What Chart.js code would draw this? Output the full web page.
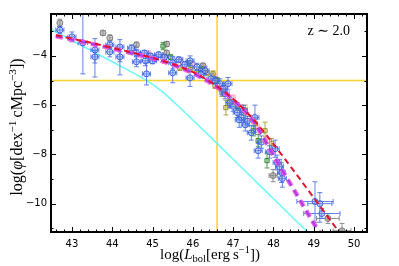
<!DOCTYPE html>
<html><head><meta charset="utf-8">
<script src="https://cdn.jsdelivr.net/npm/chart.js@4/dist/chart.umd.min.js"></script>
<style>html,body{margin:0;padding:0;background:#fff;}</style>
</head><body>
<canvas id="c" width="399" height="266"></canvas>
<script>
// ---- tick labels ----
const xTicks = [43,44,45,46,47,48,49,50];
const yTicks = [-4,-6,-8,-10];
const annotation = 'z \u223C 2.0';
const refY = [-5];
const refX = [46.6];

// ---- model curves ----
const fitRedX = [42.6,43,43.5,44,44.5,45,45.5,46,46.5,47,47.5,48,48.5,49,49.5,49.65];
const fitRedY = [-3.16,-3.3,-3.48,-3.67,-3.87,-4.08,-4.33,-4.66,-5.12,-5.75,-6.58,-7.58,-8.66,-9.76,-10.87,-11.2];
const fitMagX = [42.6,43,43.5,44,44.5,45,45.5,46,46.5,47,47.5,48,48.5,49,49.2];
const fitMagY = [-3.2,-3.34,-3.52,-3.7,-3.9,-4.1,-4.36,-4.7,-5.16,-5.8,-6.65,-8.05,-9.42,-10.8,-11.3];
const cyanX = [42.5,43,43.5,44,44.5,44.75,45,45.25,45.5,46,46.5,47,47.5,48,48.5,48.9];
const cyanY = [-2.93,-3.37,-3.81,-4.24,-4.67,-4.9,-5.16,-5.47,-5.83,-6.6,-7.4,-8.2,-9.0,-9.8,-10.6,-11.23];

// ---- observed points ----
const blueX = [42.70,43.00,43.27,43.57,43.57,43.94,43.94,44.19,44.19,44.48,44.60,44.60,44.80,44.82,44.85,44.95,45.05,45.15,45.50,45.50,45.65,45.93,45.93,46.10,46.30,46.45,46.67,46.87,46.80,46.92,47.10,47.20,47.30,47.15,47.54,47.45,47.62,48.04,48.09,48.15,48.20,48.22,49.03,49.15,49.20,45.00,45.30,45.80,46.20,46.55,46.75,47.00,47.25,47.35,47.70,47.90];
const blueY = [-2.95,-3.23,-3.47,-3.76,-4.04,-3.55,-3.84,-3.64,-4.04,-3.68,-3.88,-4.24,-3.88,-4.20,-4.73,-4.00,-4.10,-3.95,-4.28,-4.69,-4.15,-4.20,-4.89,-4.45,-4.60,-4.93,-5.13,-5.13,-5.54,-5.90,-6.30,-6.50,-6.80,-6.60,-6.50,-7.12,-7.85,-7.77,-8.33,-8.50,-8.74,-8.98,-9.91,-10.00,-10.40,-4.20,-4.05,-4.35,-4.75,-5.00,-5.35,-6.05,-6.20,-6.65,-7.50,-7.90];
const blueErrHi = [0.15,0.20,1.30,0.46,0.25,0.15,0.20,0.30,0.20,0.12,0.15,0.20,0.10,0.20,0.45,0.10,0.12,0.10,0.25,0.40,0.10,0.20,0.35,0.15,0.15,0.20,0.20,0.25,0.20,0.20,0.20,0.20,0.25,0.30,0.50,0.30,0.30,0.35,0.30,0.30,0.40,0.35,0.80,0.45,0.20,0.12,0.10,0.12,0.15,0.15,0.15,0.20,0.20,0.20,0.25,0.25];
const blueErrLo = [0.15,0.20,1.26,1.10,0.25,0.15,0.20,1.13,0.20,0.12,0.15,0.20,0.10,0.20,0.45,0.10,0.12,0.10,0.25,0.40,0.10,0.20,0.35,0.15,0.15,0.20,0.20,0.25,0.20,0.20,0.20,0.20,0.25,0.30,0.60,0.30,0.30,0.35,0.30,0.30,0.40,0.35,0.85,0.75,0.20,0.12,0.10,0.12,0.15,0.15,0.15,0.20,0.20,0.20,0.25,0.25];
const blueXErr = [0.10,0.10,0.12,0.10,0.10,0.10,0.10,0.10,0.10,0.10,0.10,0.10,0.10,0.10,0.10,0.10,0.10,0.10,0.10,0.10,0.10,0.10,0.10,0.10,0.10,0.10,0.10,0.10,0.10,0.10,0.10,0.10,0.10,0.10,0.10,0.10,0.10,0.10,0.10,0.10,0.10,0.10,0.45,0.30,0.45,0.10,0.10,0.10,0.10,0.10,0.10,0.10,0.10,0.10,0.10,0.10];

const grayX = [42.70,43.77,43.94,44.60,45.35,45.35,46.25,47.99,49.35,49.70];
const grayY = [-2.66,-3.07,-3.27,-3.55,-3.52,-3.88,-4.40,-8.86,-10.60,-11.10];
const grayErr = [0.15,0.10,0.12,0.10,0.10,0.10,0.10,0.25,0.20,0.30];
const grayXErr = [0,0,0,0,0,0,0,0.10,0.28,0.22];

const oliveX = [45.68,45.95,46.10,46.35,46.50,46.55,46.72,46.82,46.90,47.30,47.55,47.79,47.95];
const oliveY = [-4.49,-4.55,-4.69,-4.69,-4.73,-5.20,-5.50,-6.10,-5.85,-6.20,-6.75,-7.04,-7.55];
const oliveErr = [0.10,0.10,0.10,0.10,0.12,0.12,0.15,0.30,0.20,0.20,0.20,0.35,0.20];

const greenX = [45.26,45.45,45.90,46.20,46.60,47.10,47.50,47.62,47.84];
const greenY = [-3.60,-4.05,-4.30,-4.55,-5.00,-6.05,-7.05,-7.44,-8.25];
const greenErr = [0.15,0.10,0.10,0.10,0.12,0.15,0.20,0.25,0.30];

const pinkX = [44.90,45.30,45.70,46.00,46.30,46.55,46.80,47.00,47.20,47.40,47.60,47.80,48.00];
const pinkY = [-3.90,-4.00,-4.20,-4.35,-4.50,-4.85,-5.30,-5.70,-6.10,-6.50,-6.90,-7.40,-7.90];
const pinkErr = [0.12,0.12,0.12,0.12,0.12,0.12,0.12,0.12,0.12,0.12,0.12,0.12,0.12];

const pts = (xs, ys) => xs.map((x, i) => ({x, y: ys[i]}));
const errs = (lo, hi, xe) => lo.map((l, i) => ({yl: l, yh: hi ? hi[i] : l, x: xe ? xe[i] : 0}));

const XMIN = 42.48, XMAX = 50.32, YMIN = -11.15, YMAX = -2.3;

const errPlugin = {
  id: 'errbars',
  beforeDatasetDraw(chart, args) {
    const ds = chart.data.datasets[args.index];
    if (!ds.err) return;
    const ctx = chart.ctx, xs = chart.scales.x, ys = chart.scales.y, a = chart.chartArea;
    ctx.save();
    ctx.beginPath(); ctx.rect(a.left, a.top, a.right - a.left, a.bottom - a.top); ctx.clip();
    ctx.strokeStyle = ds.errColor; ctx.lineWidth = 1;
    ds.data.forEach((p, i) => {
      const e = ds.err[i];
      const px = xs.getPixelForValue(p.x), py = ys.getPixelForValue(p.y);
      ctx.beginPath();
      if (e.yl || e.yh) {
        const y1 = ys.getPixelForValue(p.y + e.yh), y2 = ys.getPixelForValue(p.y - e.yl);
        ctx.moveTo(px, y1); ctx.lineTo(px, y2);
        ctx.moveTo(px - 2.5, y1); ctx.lineTo(px + 2.5, y1);
        ctx.moveTo(px - 2.5, y2); ctx.lineTo(px + 2.5, y2);
      }
      if (e.x) {
        const x1 = xs.getPixelForValue(p.x - e.x), x2 = xs.getPixelForValue(p.x + e.x);
        ctx.moveTo(x1, py); ctx.lineTo(x2, py);
        ctx.moveTo(x1, py - 2.5); ctx.lineTo(x1, py + 2.5);
        ctx.moveTo(x2, py - 2.5); ctx.lineTo(x2, py + 2.5);
      }
      ctx.stroke();
    });
    ctx.restore();
  }
};

const refPlugin = {
  id: 'refs',
  beforeDatasetsDraw(chart) {
    const ctx = chart.ctx, xs = chart.scales.x, ys = chart.scales.y, a = chart.chartArea;
    ctx.save();
    ctx.strokeStyle = '#f9d42a'; ctx.lineWidth = 1.5;
    refY.forEach(v => { const p = ys.getPixelForValue(v); ctx.beginPath(); ctx.moveTo(a.left, p); ctx.lineTo(a.right, p); ctx.stroke(); });
    refX.forEach(v => { const p = xs.getPixelForValue(v); ctx.beginPath(); ctx.moveTo(p, a.top); ctx.lineTo(p, a.bottom); ctx.stroke(); });
    ctx.restore();
  }
};

function drawRich(ctx, segs, size, cx, cy, rot) {
  const fam = '"Liberation Serif","DejaVu Serif",serif';
  const fontFor = s => {
    const sz = (s[1] === 'sub' || s[1] === 'sup') ? size * 0.7 : size;
    return (s[1] === 'i' ? 'italic ' : '') + sz + 'px ' + fam;
  };
  let w = 0;
  segs.forEach(s => { ctx.font = fontFor(s); w += ctx.measureText(s[0]).width; });
  ctx.save();
  ctx.translate(cx, cy); ctx.rotate(rot);
  ctx.fillStyle = '#000'; ctx.textBaseline = 'alphabetic'; ctx.textAlign = 'left';
  let x = -w / 2;
  segs.forEach(s => {
    ctx.font = fontFor(s);
    let dy = 0;
    if (s[1] === 'sub') dy = size * 0.22;
    if (s[1] === 'sup') dy = -size * 0.4;
    ctx.fillText(s[0], x, dy);
    x += ctx.measureText(s[0]).width;
  });
  ctx.restore();
}

const framePlugin = {
  id: 'frame',
  afterDatasetsDraw(chart) {
    const ctx = chart.ctx, xs = chart.scales.x, ys = chart.scales.y, a = chart.chartArea;
    ctx.save();
    ctx.strokeStyle = '#000'; ctx.lineWidth = 1;
    const tick = (px, major, vertical) => {
      const L = major ? 5 : 2.5;
      ctx.beginPath();
      if (vertical) { ctx.moveTo(px, a.bottom); ctx.lineTo(px, a.bottom - L); ctx.moveTo(px, a.top); ctx.lineTo(px, a.top + L); }
      else { ctx.moveTo(a.left, px); ctx.lineTo(a.left + L, px); ctx.moveTo(a.right, px); ctx.lineTo(a.right - L, px); }
      ctx.stroke();
    };
    for (let v = 42.6; v < XMAX; v += 0.2) {
      const r = Math.round(v * 10) / 10;
      const major = Math.abs(r - Math.round(r)) < 1e-6;
      tick(Math.round(xs.getPixelForValue(r)) + 0.5, major, true);
    }
    for (let v = -11; v <= -3; v += 1) {
      tick(Math.round(ys.getPixelForValue(v)) + 0.5, v % 2 === 0, false);
    }
    ctx.lineWidth = 2;
    ctx.strokeRect(a.left, a.top, a.right - a.left, a.bottom - a.top);
    // annotation
    ctx.fillStyle = '#000';
    ctx.font = '14px "Liberation Serif","DejaVu Serif",serif';
    ctx.textAlign = 'right'; ctx.textBaseline = 'alphabetic';
    ctx.fillText(annotation, a.right - 17, 35);
    ctx.restore();
    drawRich(ctx, [['log(', 'n'], ['L', 'i'], ['bol', 'sub'], ['[erg\u2009s', 'n'], ['\u22121', 'sup'], ['])', 'n']], 15, 210, 259, 0);
    drawRich(ctx, [['log(', 'n'], ['\u03C6', 'i'], ['[dex', 'n'], ['\u22121', 'sup'], ['\u2009cMpc', 'n'], ['\u22123', 'sup'], ['])', 'n']], 16, 22, 127, -Math.PI / 2);
  }
};

const scatter = (label, xs, ys, err, style, border, bg, errColor, order, r) => ({
  type: 'scatter', label, data: pts(xs, ys), err, errColor, order,
  pointStyle: style, pointRadius: r || 3, pointBorderWidth: 1,
  pointBorderColor: border, pointBackgroundColor: bg, showLine: false
});
const line = (label, xs, ys, color, width, dash, order, smooth) => ({
  type: 'line', label, data: pts(xs, ys), borderColor: color, borderWidth: width,
  borderDash: dash, pointRadius: 0, fill: false, order,
  cubicInterpolationMode: smooth ? 'monotone' : 'default', tension: smooth ? 0.4 : 0
});

new Chart(document.getElementById('c'), {
  data: {
    datasets: [
      line('red fit', fitRedX, fitRedY, '#e3122d', 2, [6, 4], 0, true),
      line('violet fit', fitMagX, fitMagY, '#a040f0', 2, [7, 5], 1, true),
      line('magenta fit', fitMagX, fitMagY, 'rgba(255,80,210,0.9)', 4.5, [7, 5], 2, true),
      scatter('blue', blueX, blueY, errs(blueErrLo, blueErrHi, blueXErr), 'circle', '#3e63dd', 'rgba(120,150,235,0.35)', 'rgba(70,110,230,0.85)', 3),
      scatter('green', greenX, greenY, errs(greenErr, null, null), 'rect', '#3a8c3a', 'rgba(90,160,90,0.35)', 'rgba(58,140,58,0.85)', 4),
      scatter('olive', oliveX, oliveY, errs(oliveErr, null, null), 'rect', '#9c9622', 'rgba(190,180,60,0.35)', 'rgba(160,150,40,0.85)', 5),
      scatter('gray', grayX, grayY, errs(grayErr, null, grayXErr), 'circle', '#808080', 'rgba(150,150,150,0.6)', 'rgba(128,128,128,0.9)', 6),
      scatter('pink', pinkX, pinkY, errs(pinkErr, null, null), 'rect', '#ffb6c8', 'rgba(255,190,205,0.6)', 'rgba(255,182,200,0.9)', 7),
      line('cyan', cyanX, cyanY, 'rgba(90,250,250,0.9)', 1.5, [], 8, true)
    ]
  },
  options: {
    responsive: false, animation: false, devicePixelRatio: 1,
    layout: { padding: { left: 0, right: 32, top: 14, bottom: 0 } },
    plugins: { legend: { display: false }, tooltip: { enabled: false } },
    scales: {
      x: {
        type: 'linear', min: XMIN, max: XMAX,
        grid: { display: false, drawTicks: false }, border: { display: false },
        ticks: { color: '#000', font: { family: '"DejaVu Sans"', size: 10 }, padding: 6, maxRotation: 0, autoSkip: false, callback: v => String(v) },
        afterBuildTicks: s => { s.ticks = xTicks.map(v => ({ value: v })); },
        afterFit: s => { s.height = 34; }
      },
      y: {
        type: 'linear', min: YMIN, max: YMAX,
        grid: { display: false, drawTicks: false }, border: { display: false },
        ticks: { color: '#000', font: { family: '"DejaVu Sans"', size: 10 }, padding: 4, autoSkip: false, callback: v => '\u2212' + Math.abs(v) },
        afterBuildTicks: s => { s.ticks = yTicks.map(v => ({ value: v })); },
        afterFit: s => { s.width = 51; }
      }
    }
  },
  plugins: [refPlugin, errPlugin, framePlugin]
});
</script>
</body></html>
